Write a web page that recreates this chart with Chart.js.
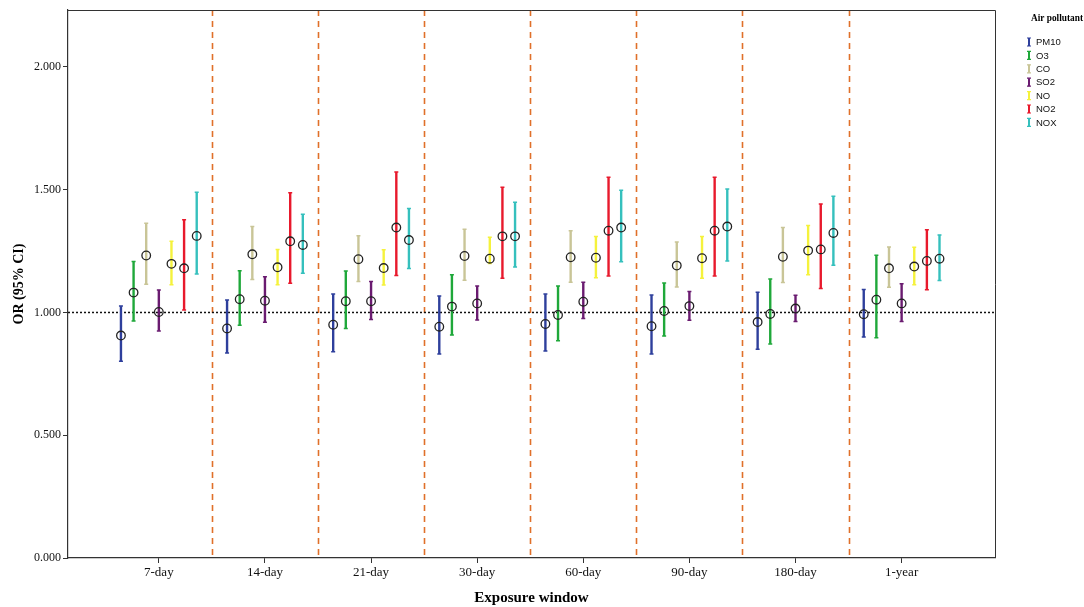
<!DOCTYPE html>
<html>
<head>
<meta charset="utf-8">
<script src="https://cdn.jsdelivr.net/npm/chart.js@4"></script>
<style>
  html, body { margin: 0; padding: 0; background: #fff; }
  #wrap { width: 1084px; height: 607px; }
</style>
</head>
<body>
<div id="wrap"><canvas id="orChart" width="1084" height="607"></canvas></div>
<script>
const categories = ["7-day", "14-day", "21-day", "30-day", "60-day", "90-day", "180-day", "1-year"];
const pollutants = ["PM10", "O3", "CO", "SO2", "NO", "NO2", "NOX"];
const colors = ["#2e3f9c", "#1fa83a", "#c9c597", "#6a1b70", "#f5f23c", "#e8192c", "#35c0bd"];
const yTicks = [0, 0.5, 1.0, 1.5, 2.0];

// odds ratio, lower and upper 95% CI per exposure window
const orPM10 = [0.906, 0.935, 0.950, 0.942, 0.953, 0.944, 0.961, 0.993];
const loPM10 = [0.801, 0.835, 0.840, 0.831, 0.843, 0.831, 0.850, 0.900];
const hiPM10 = [1.026, 1.051, 1.075, 1.067, 1.075, 1.071, 1.082, 1.094];

const orO3 = [1.081, 1.054, 1.046, 1.024, 0.990, 1.006, 0.994, 1.052];
const loO3 = [0.965, 0.948, 0.935, 0.908, 0.885, 0.904, 0.872, 0.897];
const hiO3 = [1.208, 1.170, 1.169, 1.154, 1.108, 1.120, 1.136, 1.233];

const orCO = [1.232, 1.237, 1.217, 1.230, 1.225, 1.191, 1.227, 1.180];
const loCO = [1.115, 1.134, 1.126, 1.131, 1.123, 1.104, 1.122, 1.103];
const hiCO = [1.363, 1.350, 1.313, 1.339, 1.333, 1.287, 1.346, 1.267];

const orSO2 = [1.002, 1.048, 1.046, 1.037, 1.044, 1.026, 1.016, 1.037];
const loSO2 = [0.925, 0.960, 0.971, 0.969, 0.975, 0.968, 0.963, 0.963];
const hiSO2 = [1.092, 1.146, 1.126, 1.108, 1.123, 1.085, 1.070, 1.117];

const orNO = [1.198, 1.184, 1.181, 1.219, 1.223, 1.221, 1.252, 1.187];
const loNO = [1.113, 1.113, 1.112, 1.200, 1.141, 1.139, 1.154, 1.113];
const hiNO = [1.290, 1.257, 1.255, 1.306, 1.309, 1.309, 1.354, 1.266];

const orNO2 = [1.180, 1.290, 1.346, 1.310, 1.333, 1.333, 1.257, 1.210];
const loNO2 = [1.010, 1.119, 1.151, 1.139, 1.149, 1.149, 1.098, 1.093];
const hiNO2 = [1.378, 1.488, 1.572, 1.510, 1.551, 1.551, 1.442, 1.337];

const orNOX = [1.312, 1.275, 1.295, 1.310, 1.346, 1.350, 1.324, 1.219];
const loNOX = [1.157, 1.160, 1.179, 1.185, 1.207, 1.210, 1.192, 1.130];
const hiNOX = [1.490, 1.400, 1.424, 1.449, 1.498, 1.503, 1.473, 1.316];

const orVals = [orPM10, orO3, orCO, orSO2, orNO, orNO2, orNOX];
const loVals = [loPM10, loO3, loCO, loSO2, loNO, loNO2, loNOX];
const hiVals = [hiPM10, hiO3, hiCO, hiSO2, hiNO, hiNO2, hiNOX];

const step = 0.119; // spacing of pollutants inside a window, in category units
const offsetOf = s => (s - (pollutants.length - 1) / 2) * step;

const datasets = pollutants.map((name, s) => ({
  label: name,
  data: categories.map((c, i) => ({ x: i + offsetOf(s), y: orVals[s][i], lo: loVals[s][i], hi: hiVals[s][i] })),
  errColor: colors[s],
  pointRadius: 4.3,
  pointHoverRadius: 4.3,
  pointBackgroundColor: "rgba(0,0,0,0)",
  pointBorderColor: "#222",
  pointBorderWidth: 1.3,
  showLine: false
}));

// error bars, window dividers, reference line, frame and legend
const decorations = {
  id: "decorations",
  beforeDatasetsDraw(chart) {
    const { ctx, chartArea: a, scales: { x, y } } = chart;
    ctx.save();
    // window dividers
    ctx.strokeStyle = "#e0702a";
    ctx.lineWidth = 1.6;
    ctx.setLineDash([6, 5]);
    for (let i = 0; i < categories.length - 1; i++) {
      const px = Math.round(x.getPixelForValue(i + 0.5)) + 0.5;
      ctx.beginPath();
      ctx.moveTo(px, a.top);
      ctx.lineTo(px, a.bottom);
      ctx.stroke();
    }
    // reference OR = 1
    ctx.strokeStyle = "#111";
    ctx.lineWidth = 1.5;
    ctx.setLineDash([2, 2]);
    const py = y.getPixelForValue(1);
    ctx.beginPath();
    ctx.moveTo(a.left, py);
    ctx.lineTo(a.right, py);
    ctx.stroke();
    ctx.setLineDash([]);
    // error bars
    chart.data.datasets.forEach(ds => {
      ctx.strokeStyle = ds.errColor;
      ds.data.forEach(d => {
        const px = x.getPixelForValue(d.x);
        const top = y.getPixelForValue(d.hi);
        const bot = y.getPixelForValue(d.lo);
        ctx.lineWidth = 2.4;
        ctx.beginPath();
        ctx.moveTo(px, top);
        ctx.lineTo(px, bot);
        ctx.stroke();
        ctx.lineWidth = 1.5;
        ctx.beginPath();
        ctx.moveTo(px - 2, top); ctx.lineTo(px + 2, top);
        ctx.moveTo(px - 2, bot); ctx.lineTo(px + 2, bot);
        ctx.stroke();
      });
    });
    ctx.restore();
  },
  afterDraw(chart) {
    const { ctx, chartArea: a } = chart;
    ctx.save();
    // top and right frame
    ctx.strokeStyle = "#333";
    ctx.lineWidth = 1;
    ctx.beginPath();
    ctx.moveTo(a.left, a.top + 0.5);
    ctx.lineTo(a.right + 0.5, a.top + 0.5);
    ctx.lineTo(a.right + 0.5, a.bottom);
    ctx.stroke();
    // legend
    ctx.fillStyle = "#000";
    ctx.font = "bold 10px 'Liberation Serif'";
    ctx.textBaseline = "middle";
    ctx.fillText("Air pollutant", 1031, 18, 52);
    ctx.font = "9.5px 'Liberation Sans'";
    pollutants.forEach((name, s) => {
      const ly = 42 + s * 13.4;
      ctx.strokeStyle = colors[s];
      ctx.lineWidth = 2;
      ctx.beginPath();
      ctx.moveTo(1029, ly - 4); ctx.lineTo(1029, ly + 4);
      ctx.stroke();
      ctx.lineWidth = 1.2;
      ctx.beginPath();
      ctx.moveTo(1027, ly - 4); ctx.lineTo(1031, ly - 4);
      ctx.moveTo(1027, ly + 4); ctx.lineTo(1031, ly + 4);
      ctx.stroke();
      ctx.fillStyle = "#111";
      ctx.fillText(name, 1036, ly + 0.5);
    });
    ctx.restore();
  }
};

new Chart(document.getElementById("orChart"), {
  type: "scatter",
  data: { datasets },
  options: {
    responsive: false,
    animation: false,
    events: [],
    layout: { padding: { top: 10, right: 89, left: 0, bottom: 0 } },
    plugins: {
      legend: { display: false },
      tooltip: { enabled: false }
    },
    scales: {
      x: {
        type: "linear",
        min: -0.856,
        max: 7.88,
        afterBuildTicks: scale => { scale.ticks = categories.map((c, i) => ({ value: i })); },
        afterFit: scale => { scale.height = 49; },
        grid: { drawOnChartArea: false, tickLength: 5, color: "#333", tickWidth: 1 },
        border: { display: true, color: "#333", width: 1.2 },
        ticks: {
          color: "#111",
          font: { family: "'Liberation Serif'", size: 13 },
          padding: 2,
          maxRotation: 0,
          autoSkip: false,
          callback: v => categories[v]
        },
        title: {
          display: true,
          text: "Exposure window",
          color: "#000",
          font: { family: "'Liberation Serif'", size: 15, weight: "bold" },
          padding: { top: 6, bottom: 0 }
        }
      },
      y: {
        min: 0,
        max: 2.232,
        afterBuildTicks: scale => { scale.ticks = yTicks.map(v => ({ value: v })); },
        afterFit: scale => { scale.width = 68; },
        grid: { drawOnChartArea: false, tickLength: 5, color: "#333", tickWidth: 1 },
        border: { display: true, color: "#333", width: 1.2 },
        ticks: {
          color: "#111",
          font: { family: "'Liberation Serif'", size: 12 },
          padding: 2,
          callback: v => v.toFixed(3)
        },
        title: {
          display: true,
          text: "OR (95% CI)",
          color: "#000",
          font: { family: "'Liberation Serif'", size: 14, weight: "bold" },
          padding: { top: 11, bottom: 4 }
        }
      }
    }
  },
  plugins: [decorations]
});
</script>
</body>
</html>
